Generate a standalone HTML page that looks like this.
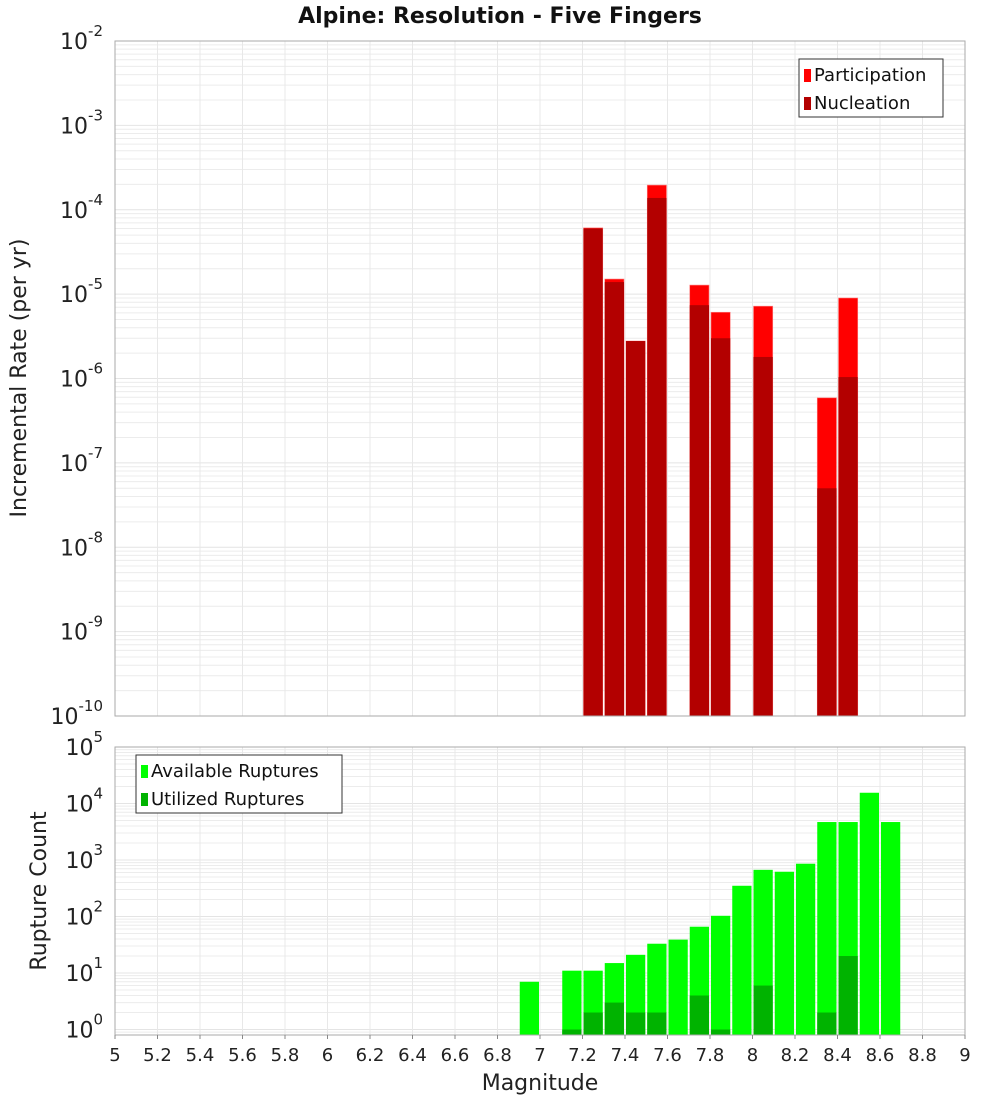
<!DOCTYPE html>
<html><head><meta charset="utf-8"><style>
body{margin:0;background:#fff;font-family:"Liberation Sans","DejaVu Sans",sans-serif}
svg text{font-family:"DejaVu Sans","Liberation Sans",sans-serif}
</style></head><body>
<svg id="c" width="1000" height="1100" xmlns="http://www.w3.org/2000/svg"></svg>
<script>
const binCenters=[7.25,7.35,7.45,7.55,7.75,7.85,8.05,8.35,8.45];
const participation=[6.1e-5,1.51e-5,2.78e-6,1.96e-4,1.28e-5,6.1e-6,7.2e-6,5.9e-7,9.0e-6];
const nucleation=[6.0e-5,1.39e-5,2.78e-6,1.38e-4,7.4e-6,3.0e-6,1.8e-6,5.0e-8,1.04e-6];
const availMags=[6.95,7.15,7.25,7.35,7.45,7.55,7.65,7.75,7.85,7.95,8.05,8.15,8.25,8.35,8.45,8.55,8.65];
const available=[7,11,11,15,21,33,39,66,103,350,670,620,860,4700,4700,15500,4700];
const utilMags=[7.15,7.25,7.35,7.45,7.55,7.75,7.85,8.05,8.35,8.45];
const utilized=[1,2,3,2,2,4,1,6,2,20];
const xTicks=[5,5.2,5.4,5.6,5.8,6,6.2,6.4,6.6,6.8,7,7.2,7.4,7.6,7.8,8,8.2,8.4,8.6,8.8,9];
const topExps=[-10,-9,-8,-7,-6,-5,-4,-3,-2];
const botExps=[0,1,2,3,4,5];

const svg=document.getElementById('c');const NS='http://www.w3.org/2000/svg';
function el(t,a,p){const e=document.createElementNS(NS,t);for(const k in a)e.setAttribute(k,a[k]);(p||svg).appendChild(e);return e;}
const X0=115,X1=965;
const xs=m=>X0+(m-5)/4*(X1-X0);
const T0=41,T1=716;const yT=v=>T1-(Math.log10(v)+10)/8*(T1-T0);
const B0=747,B1=1035;const bMin=Math.log10(0.8);const yB=v=>B1-(Math.log10(v)-bMin)/(5-bMin)*(B1-B0);
const BW=xs(0.1)-xs(0)-2;

function panel(y0,y1,yf,lo,hi,name){
  const g=el('g',{}),gg=el('g',{});
  for(let e=lo;e<hi;e++)for(let k=1;k<10;k++){const v=k*Math.pow(10,e);const y=yf(v);if(y<y0||y>y1)continue;
    el('line',{x1:X0,x2:X1,y1:y,y2:y,stroke:k==1?'#e4e4e4':'#ececec','stroke-width':1},g);}
  xTicks.forEach(t=>el('line',{x1:xs(t),x2:xs(t),y1:y0,y2:y1,stroke:'#e8e8e8'},g));
}
panel(T0,T1,yT,-10,-2,'top');panel(B0,B1,yB,-1,5,'bottom');

// top bars
binCenters.forEach((m,i)=>{
  const x=xs(m)-BW/2;
  const p=el('rect',{x:x,y:yT(participation[i]),width:BW,height:T1-yT(participation[i]),fill:'#ff0000',stroke:'#ff8080','stroke-width':0.6});
  
  const n=el('rect',{x:x,y:yT(nucleation[i]),width:BW,height:T1-yT(nucleation[i]),fill:'#b30000'});
  
});
availMags.forEach((m,i)=>{
  const r=el('rect',{x:xs(m)-BW/2,y:yB(available[i]),width:BW,height:B1-yB(available[i]),fill:'#00ff00'});
  
});
utilMags.forEach((m,i)=>{
  const r=el('rect',{x:xs(m)-BW/2,y:yB(utilized[i]),width:BW,height:B1-yB(utilized[i]),fill:'#00b300'});
  
});
// frames
const f1=el('rect',{x:X0,y:T0,width:X1-X0,height:T1-T0,fill:'none',stroke:'#aaa'});

const f2=el('rect',{x:X0,y:B0,width:X1-X0,height:B1-B0,fill:'none',stroke:'#aaa'});


function ylab(exp,y,name){
  const t=el('text',{x:X0-12,y:y+8,'text-anchor':'end','font-size':22,fill:'#222'});
  
  t.appendChild(document.createTextNode('10'));
  const s=el('tspan',{dy:-13,'font-size':15},t);s.textContent=String(exp);
}
topExps.forEach(e=>ylab(e,yT(Math.pow(10,e)),'top-y-tick-label'));
botExps.forEach(e=>ylab(e,yB(Math.pow(10,e)),'bottom-y-tick-label'));
xTicks.forEach(t=>{
  const tx=el('text',{x:xs(t),y:1061,'text-anchor':'middle','font-size':18,fill:'#222'});
  
  tx.textContent=String(t);
  el('line',{x1:xs(t),x2:xs(t),y1:B1,y2:B1+4,stroke:'#888'});
});
function txt(s,a,name){const t=el('text',a);t.textContent=s;return t;}
txt('Alpine: Resolution - Five Fingers',{x:500,y:23,'text-anchor':'middle','font-size':22,'font-weight':'bold',fill:'#111'},'chart-title');
txt('Magnitude',{x:540,y:1090,'text-anchor':'middle','font-size':22,fill:'#222'},'x-axis-title');
txt('Incremental Rate (per yr)',{x:0,y:0,'text-anchor':'middle','font-size':22,fill:'#222',transform:'translate(26,378) rotate(-90)'},'top-y-axis-title');
txt('Rupture Count',{x:0,y:0,'text-anchor':'middle','font-size':22,fill:'#222',transform:'translate(46,891) rotate(-90)'},'bottom-y-axis-title');

function legend(x,y,w,items,name){
  const g=el('g',{});
  el('rect',{x:x,y:y,width:w,height:58,fill:'#fff',stroke:'#333'},g);
  items.forEach((it,i)=>{
    el('rect',{x:x+5,y:y+10+i*28,width:7,height:13,fill:it[1]},g);
    const t=el('text',{x:x+15,y:y+22+i*28,'font-size':18,fill:'#111'},g);t.textContent=it[0];
  });
}
legend(799,59,144,[['Participation','#ff0000'],['Nucleation','#b30000']],'top-legend');
legend(136,755,206,[['Available Ruptures','#00ff00'],['Utilized Ruptures','#00b300']],'bottom-legend');
</script>
</body></html>
